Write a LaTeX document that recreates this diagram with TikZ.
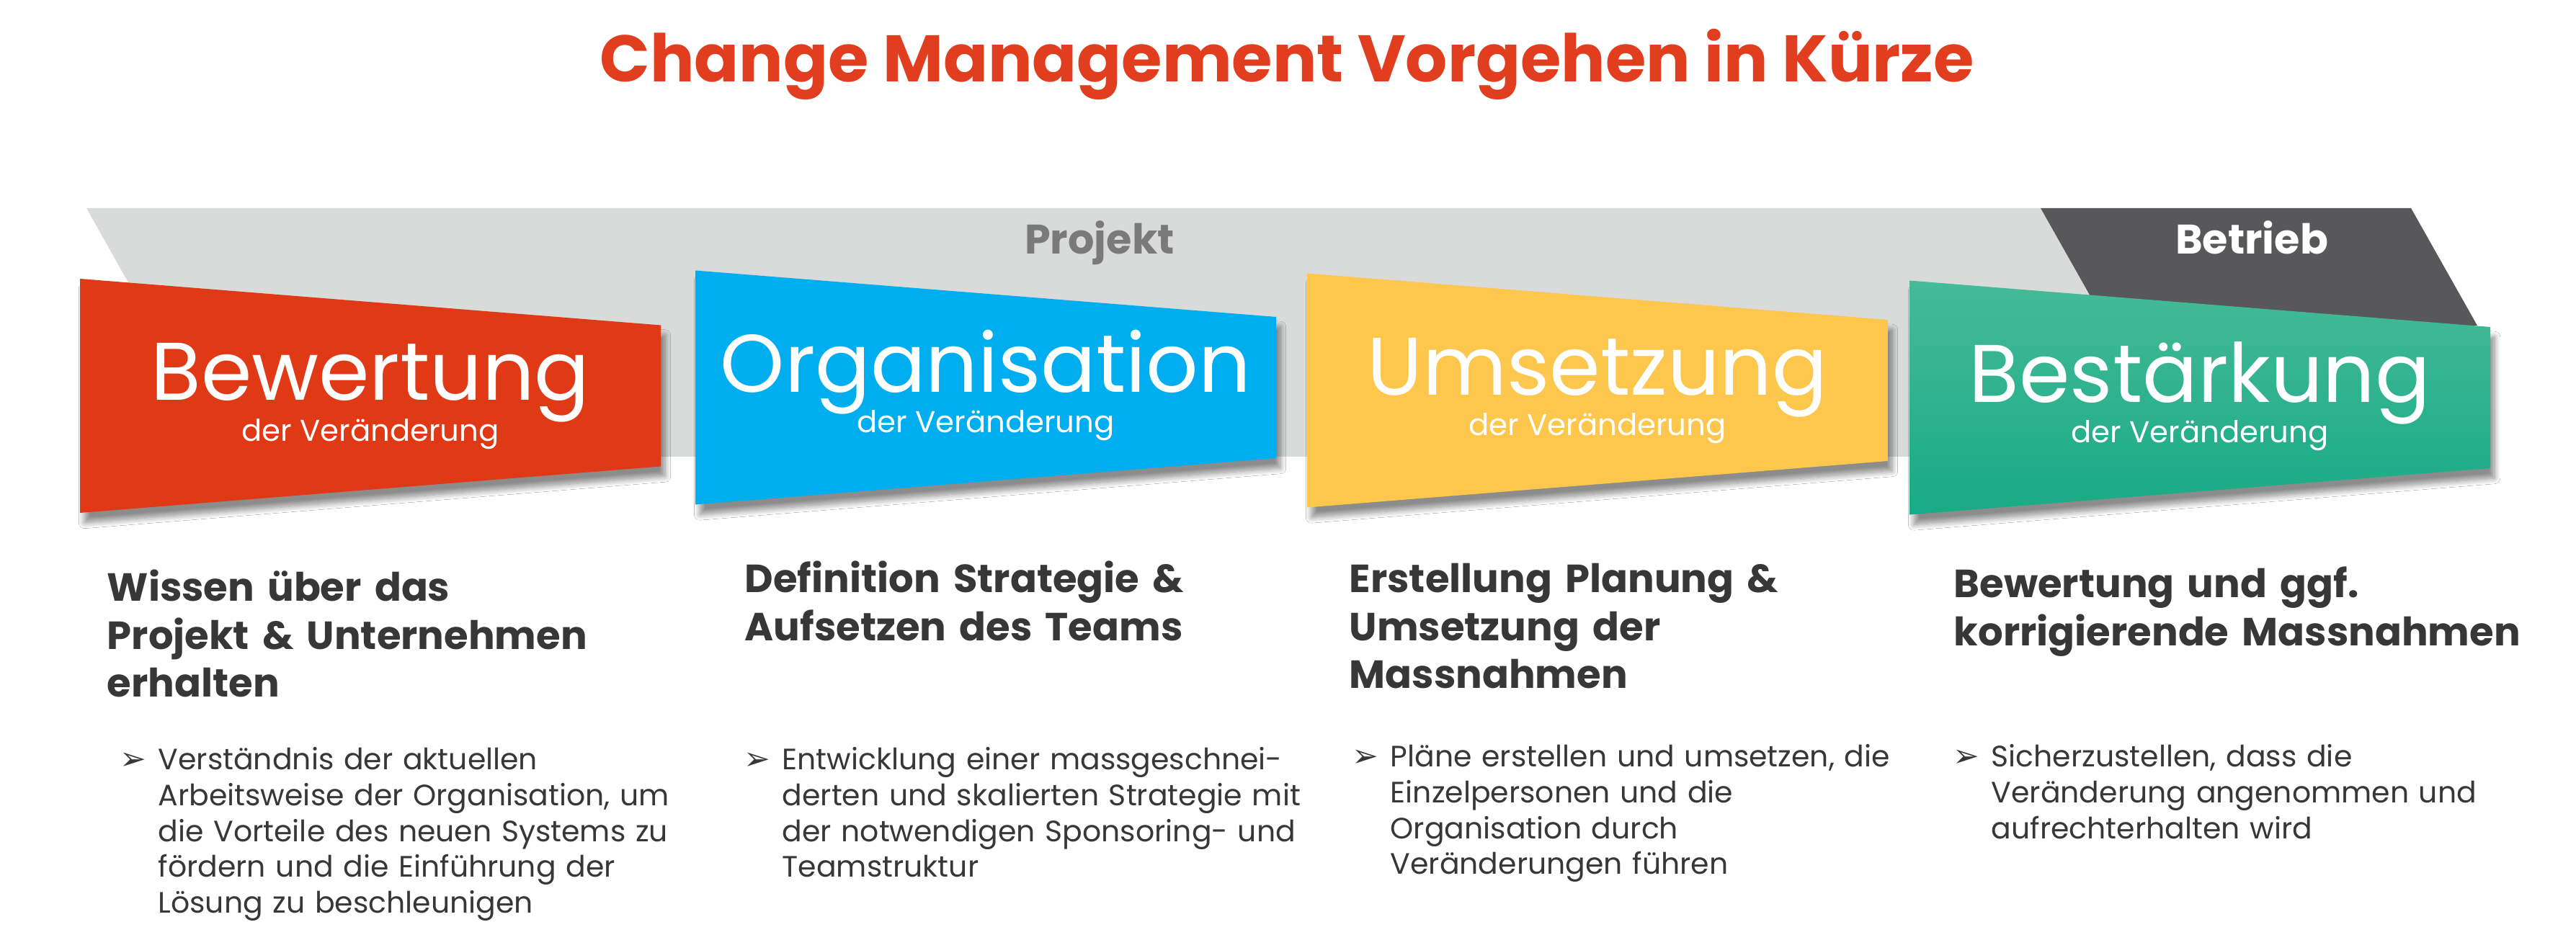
\documentclass[tikz,border=0pt]{standalone}
\usepackage{fontspec}
\setmainfont{Poppins}
\newfontfamily\symfont{DejaVu Sans}
\usepackage{xcolor}
\usepackage{tikz}
\usetikzlibrary{calc}
\usetikzlibrary{shadows.blur}
\definecolor{titlecolor}{RGB}{224,62,30}
\definecolor{bandgray}{RGB}{217,219,218}
\definecolor{banddark}{RGB}{88,88,90}
\definecolor{projgray}{RGB}{122,122,122}
\definecolor{phasered}{RGB}{224,57,22}
\definecolor{phaseblue}{RGB}{0,174,239}
\definecolor{phaseyellow}{RGB}{253,199,77}
\definecolor{phasegreenA}{RGB}{70,186,152}
\definecolor{phasegreenB}{RGB}{24,170,134}
\definecolor{textdark}{RGB}{55,55,55}

\begin{document}
\begin{tikzpicture}[
    phasebox/.style = {blur shadow = {shadow xshift = 0.6mm, shadow yshift = -1.4mm,
        shadow blur steps = 10, shadow opacity = 45}},
    phasetitle/.style = {anchor = base, text = white, inner sep = 0pt, font = \fontsize{32.3}{32.3}\selectfont},
    phasesub/.style   = {anchor = base, text = white, inner sep = 0pt, font = \fontsize{11.9}{11.9}\selectfont},
    bandlabel/.style  = {anchor = base, inner sep = 0pt, font = \bfseries\fontsize{16.3}{16.3}\selectfont},
    heading/.style    = {anchor = base west, inner sep = 0pt, align = left, text width = 9.5cm,
        text = textdark, font = \bfseries\fontsize{15.5}{18.8}\selectfont},
    bullettext/.style = {anchor = base west, inner sep = 0pt, align = left, text width = 9.5cm,
        text = textdark, font = \fontsize{11.65}{14.1}\selectfont},
    bulletmark/.style = {anchor = base west, inner sep = 0pt, text = textdark, font = \symfont\fontsize{12.5}{12.5}\selectfont}
    ]

\def\BW{8.06}  % width of a phase box
\def\HL{1.625} % half height at the left edge
\def\HR{0.98}  % half height at the right edge

\useasboundingbox (0, 0) rectangle (35.75, 13.05);
\fill [white] (0, 0) rectangle (35.75, 13.05);

\node (title) at (17.86, 11.91) [anchor = base, text = titlecolor, inner sep = 0pt,
    font = \bfseries\fontsize{26}{26}\selectfont] {Change Management Vorgehen in Kürze};

% bands behind the boxes
\fill [bandgray] (1.20, 10.16) -- (28.32, 10.16) -- (30.26, 6.71) -- (3.14, 6.71) -- cycle;
\fill [banddark] (28.32, 10.16) -- (33.46, 10.16) -- (34.38, 8.53) -- (29.24, 8.53) -- cycle;
\node (projekt) at (15.26, 9.52) [bandlabel, text = projgray] {Projekt};
\node (betrieb) at (31.25, 9.52) [bandlabel, text = white]    {Betrieb};

\foreach \x/\y/\ctop/\cbot/\nm/\word in {
    1.11/7.555/phasered/phasered/bew/Bewertung,
    9.65/7.67/phaseblue/phaseblue/org/Organisation,
    18.14/7.63/phaseyellow/phaseyellow/ums/Umsetzung,
    26.50/7.53/phasegreenA/phasegreenB/bes/Bestärkung}{
    \path [phasebox, top color = \ctop, bottom color = \cbot]
        (\x, \y + \HL) -- ++(\BW, \HR - \HL) -- ++(0, -2*\HR) -- (\x, \y - \HL) -- cycle;
    \node (\nm)     at (\x + \BW/2, \y - 0.065) [phasetitle] {\word};
    \node (\nm-sub) at (\x + \BW/2, \y - 0.63)  [phasesub]   {der Veränderung};
    }

\node (head1) at (1.48, 4.70)  [heading] {Wissen über das\\Projekt \& Unternehmen\\erhalten};
\node (head2) at (10.33, 4.82) [heading] {Definition Strategie \&\\Aufsetzen des Teams};
\node (head3) at (18.72, 4.82) [heading] {Erstellung Planung \&\\Umsetzung der\\Massnahmen};
\node (head4) at (27.11, 4.75) [heading] {Bewertung und ggf.\\korrigierende Massnahmen};

\node (mark1) at (1.66, 2.36)  [bulletmark] {➢};
\node (mark2) at (10.32, 2.36) [bulletmark] {➢};
\node (mark3) at (18.76, 2.40) [bulletmark] {➢};
\node (mark4) at (27.10, 2.40) [bulletmark] {➢};

\node (text1) at (2.19, 2.36)  [bullettext] {Verständnis der aktuellen\\Arbeitsweise der Organisation, um\\die Vorteile des neuen Systems zu\\fördern und die Einführung der\\Lösung zu beschleunigen};
\node (text2) at (10.85, 2.36) [bullettext] {Entwicklung einer massgeschnei-\\derten und skalierten Strategie mit\\der notwendigen Sponsoring- und\\Teamstruktur};
\node (text3) at (19.29, 2.40) [bullettext] {Pläne erstellen und umsetzen, die\\Einzelpersonen und die\\Organisation durch\\Veränderungen führen};
\node (text4) at (27.63, 2.40) [bullettext] {Sicherzustellen, dass die\\Veränderung angenommen und\\aufrechterhalten wird};
\end{tikzpicture}
\end{document}
